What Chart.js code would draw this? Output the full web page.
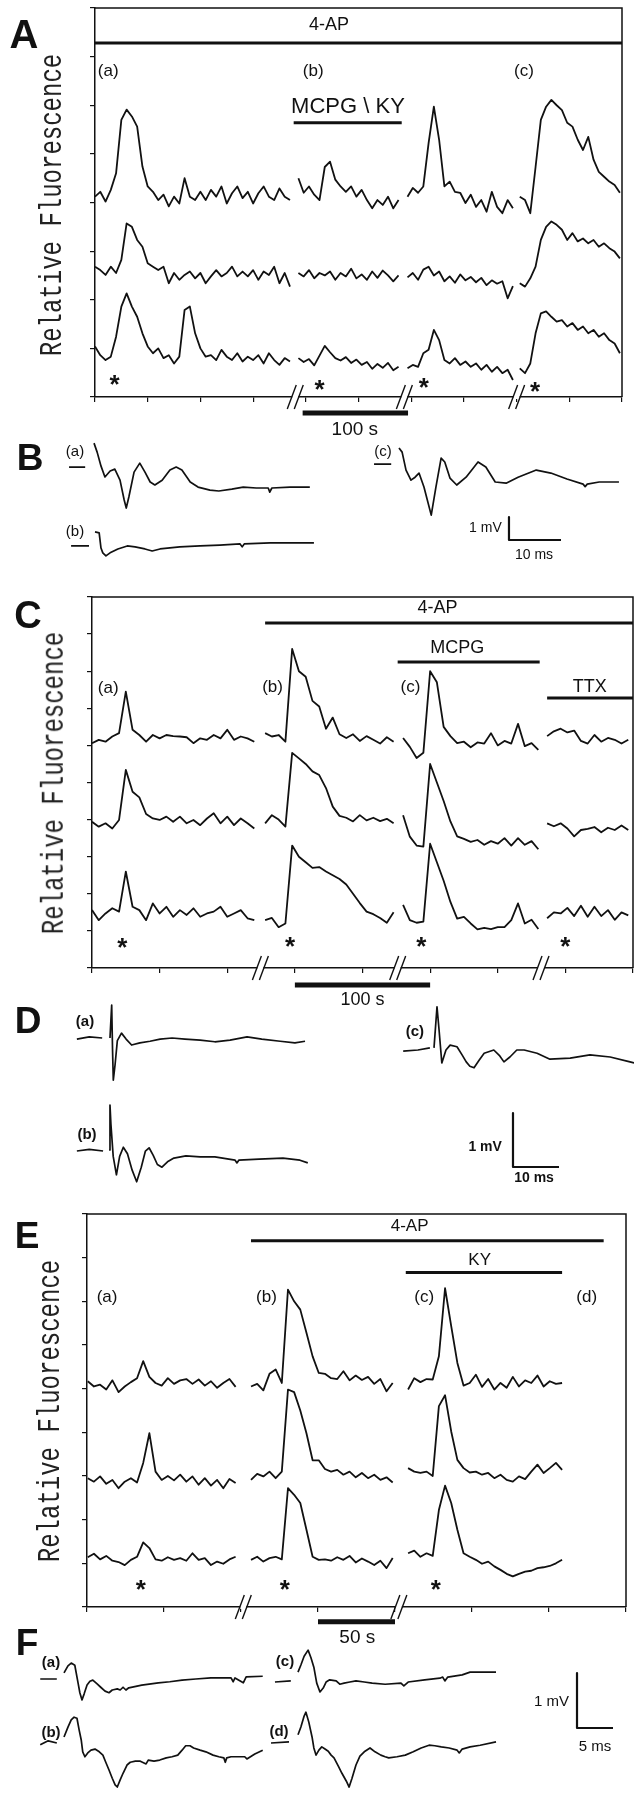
<!DOCTYPE html>
<html>
<head>
<meta charset="utf-8">
<script src="https://cdn.jsdelivr.net/npm/chart.js@4.4.1/dist/chart.umd.min.js"></script>
<style>
  html, body { margin: 0; padding: 0; background: #fff; }
  #page { position: relative; width: 634px; height: 1800px; overflow: hidden; background: #fff; }
  #page canvas { position: absolute; left: 0; }
  .letter { position: absolute; font-family: "Liberation Sans", Arial, sans-serif; font-weight: bold; color: #111;
            line-height: 1; transform: translate(-50%, -50%); }
  .ytitle { position: absolute; font: 24px "Liberation Mono", "Courier New", monospace; color: #222; white-space: nowrap;
            line-height: 1; transform: translate(-50%, -50%) rotate(-90deg) scaleY(1.3); }
</style>
</head>
<body>
<div id="page">
  <canvas id="chartA" width="634" height="445" style="top:0px"></canvas>
  <canvas id="chartC" width="634" height="440" style="top:580px"></canvas>
  <canvas id="chartE" width="634" height="450" style="top:1200px"></canvas>
  <canvas id="chartB" width="634" height="160" style="top:420px"></canvas>
  <canvas id="chartD" width="634" height="200" style="top:1000px"></canvas>
  <canvas id="chartF" width="634" height="180" style="top:1620px"></canvas>

  <div class="letter" style="left:24px;top:34px;font-size:40px">A</div>
  <div class="letter" style="left:30px;top:457px;font-size:37px">B</div>
  <div class="letter" style="left:28px;top:615px;font-size:38px">C</div>
  <div class="letter" style="left:28px;top:1020px;font-size:37px">D</div>
  <div class="letter" style="left:27px;top:1235px;font-size:37px">E</div>
  <div class="letter" style="left:27px;top:1642px;font-size:37px">F</div>

  <div class="ytitle" style="left:53px;top:205px">Relative Fluorescence</div>
  <div class="ytitle" style="left:55px;top:783px">Relative Fluorescence</div>
  <div class="ytitle" style="left:51px;top:1411px">Relative Fluorescence</div>
</div>

<script>
// ---------- fluorescence traces (x in s, y in relative units) ----------
// panel A: 4 recording windows, one sample every 5 s
const aSegStart = [0, 193, 296.5, 403];
const aStep = 5;
const aTraceTop = [
  [4.12,4.22,4.02,4.26,4.60,5.70,5.91,5.77,5.56,4.74,4.33,4.22,4.05,4.16,3.92,4.12,3.98,4.50,4.12,4.05,4.22,4.05,4.26,4.12,4.33,3.98,4.19,4.33,4.09,4.22,3.98,4.19,4.33,4.12,4.05,4.29,4.12,4.05],
  [4.50,4.20,4.33,4.16,4.05,4.73,4.84,4.47,4.33,4.22,4.33,4.12,4.26,4.05,3.88,4.05,3.95,4.12,3.88,4.05],
  [4.12,4.30,4.20,4.33,5.22,5.97,5.29,4.33,4.43,4.22,4.20,3.99,4.16,3.91,4.05,3.81,4.22,3.91,3.78,4.05,3.88],
  [4.12,4.05,3.78,4.73,5.70,5.97,6.11,6.00,5.90,5.64,5.56,5.29,5.08,5.35,4.88,4.63,4.53,4.43,4.36,4.20]
];
const aTraceMid = [
  [2.68,2.61,2.51,2.68,2.55,2.82,3.57,3.50,3.23,3.09,2.75,2.68,2.61,2.68,2.34,2.55,2.41,2.51,2.58,2.44,2.55,2.34,2.48,2.61,2.48,2.55,2.68,2.48,2.58,2.48,2.61,2.41,2.58,2.51,2.68,2.34,2.55,2.27],
  [2.55,2.48,2.61,2.44,2.55,2.50,2.58,2.41,2.55,2.48,2.64,2.44,2.52,2.41,2.58,2.45,2.60,2.50,2.38,2.50],
  [2.46,2.55,2.41,2.62,2.68,2.50,2.58,2.38,2.48,2.35,2.52,2.40,2.47,2.36,2.45,2.30,2.40,2.33,2.38,2.03,2.28],
  [2.34,2.27,2.44,2.68,3.23,3.50,3.61,3.54,3.44,3.23,3.37,3.20,3.26,3.16,3.23,3.09,3.16,3.06,2.99,2.85]
];
const aTraceBot = [
  [1.04,0.86,0.76,0.83,1.24,1.86,2.13,1.86,1.65,1.31,1.04,0.90,1.00,0.80,0.86,0.69,0.83,1.79,1.86,1.31,1.00,0.83,0.86,0.76,0.97,0.83,0.76,0.90,0.73,0.83,0.76,0.86,0.69,0.90,0.76,0.66,0.80,0.73],
  [0.80,0.72,0.78,0.65,0.85,1.05,0.92,0.80,0.75,0.82,0.70,0.77,0.66,0.72,0.58,0.68,0.60,0.70,0.55,0.62],
  [0.59,0.66,0.62,0.90,0.97,1.38,1.17,0.76,0.69,0.80,0.66,0.73,0.62,0.69,0.56,0.66,0.52,0.62,0.49,0.56,0.35],
  [0.59,0.49,0.69,1.31,1.72,1.76,1.65,1.55,1.58,1.45,1.52,1.38,1.45,1.31,1.38,1.24,1.31,1.17,1.10,0.90]
];

// panel C: 4 windows, one sample every 5 s
const cSegStart = [0, 128, 230, 336.5];
const cStep = 5;
const cTraceTop = [
  [6.06,6.15,6.10,6.24,6.33,7.45,6.42,6.28,6.10,6.28,6.19,6.28,6.25,6.24,6.22,6.06,6.19,6.15,6.28,6.19,6.42,6.15,6.24,6.19,6.10],
  [6.33,6.24,6.28,6.10,8.60,8.00,7.85,7.20,7.05,6.45,6.75,6.30,6.20,6.30,6.12,6.25,6.15,6.05,6.22,6.10],
  [6.20,5.96,5.66,5.80,8.00,7.70,6.50,6.25,6.06,6.10,5.95,6.08,6.05,6.33,6.00,6.12,6.05,6.58,5.98,6.06,5.88],
  [6.25,6.38,6.45,6.35,6.40,6.12,6.05,6.28,6.10,6.20,6.15,6.05,6.15]
];
const cTraceMid = [
  [3.94,3.81,3.90,3.76,3.99,5.34,4.75,4.60,4.15,4.03,3.99,4.08,3.94,4.08,3.90,3.99,3.85,4.03,4.17,3.90,4.08,3.85,4.03,3.90,3.76],
  [3.90,4.12,4.00,3.81,5.80,5.65,5.50,5.30,5.20,4.85,4.35,4.10,4.05,3.95,4.12,3.98,4.05,3.96,4.02,3.90],
  [4.12,3.54,3.30,3.27,5.50,5.00,4.50,3.95,3.55,3.48,3.40,3.45,3.32,3.42,3.35,3.50,3.30,3.50,3.32,3.42,3.20],
  [3.90,3.82,3.90,3.76,3.55,3.72,3.75,3.80,3.66,3.78,3.72,3.84,3.72]
];
const cTraceBot = [
  [1.56,1.29,1.47,1.61,1.52,2.60,1.65,1.56,1.29,1.74,1.47,1.65,1.38,1.56,1.43,1.61,1.38,1.47,1.52,1.65,1.38,1.47,1.56,1.34,1.29],
  [1.29,1.35,1.10,1.20,3.30,3.00,2.85,2.70,2.72,2.60,2.50,2.40,2.25,2.00,1.75,1.52,1.45,1.35,1.22,1.50],
  [1.70,1.29,1.22,1.25,3.35,2.85,2.35,1.78,1.33,1.38,1.20,1.04,1.08,1.05,1.10,1.10,1.29,1.74,1.20,1.30,1.05],
  [1.34,1.50,1.47,1.62,1.40,1.68,1.38,1.65,1.40,1.56,1.30,1.50,1.42]
];

// panel E: 3 windows, one sample every 4 s
const eSegStart = [0.5, 106.5, 208.5];
const eStep = 4;
const eTraceTop = [
  [5.17,5.05,5.09,4.98,5.19,4.92,5.05,5.15,5.24,5.63,5.27,5.13,5.07,5.24,5.11,5.19,5.22,5.11,5.21,5.07,5.17,5.02,5.13,5.22,5.04],
  [5.05,5.11,4.96,5.34,5.44,5.13,7.27,7.00,6.81,6.28,5.74,5.36,5.34,5.24,5.22,5.40,5.19,5.30,5.20,5.27,5.11,5.22,4.94,5.13],
  [4.98,5.24,5.15,5.22,5.21,5.74,7.30,6.43,5.59,5.07,5.13,5.32,5.04,5.22,4.98,5.13,5.02,5.27,5.05,5.19,5.13,5.30,5.05,5.17,5.11,5.13]
];
const eTraceMid = [
  [2.95,2.87,2.99,2.82,2.91,2.72,2.87,2.95,2.85,3.30,3.98,3.10,2.91,3.00,2.90,3.03,2.87,2.99,2.80,2.95,2.78,2.91,2.72,2.93,2.84],
  [2.91,3.05,2.99,3.10,2.95,3.10,4.98,4.92,4.50,3.98,3.36,3.36,3.16,3.10,3.14,3.03,3.10,2.97,3.07,2.95,3.03,2.91,2.97,2.85],
  [3.18,3.10,3.07,3.10,3.00,4.60,4.85,4.02,3.37,3.18,3.08,3.10,3.03,3.07,2.95,3.03,2.91,2.87,2.99,2.93,3.10,3.26,3.07,3.18,3.30,3.14]
];
const eTraceBot = [
  [1.14,1.22,1.09,1.17,1.06,1.03,0.96,1.08,1.15,1.48,1.35,1.09,1.06,1.14,1.08,1.12,1.06,1.23,1.08,1.12,0.96,1.04,0.99,1.09,1.15],
  [1.08,1.15,1.04,1.12,1.15,1.09,2.72,2.57,2.38,1.77,1.15,1.08,1.09,1.06,1.14,1.08,1.17,1.02,1.11,1.04,0.96,1.06,0.89,1.12],
  [1.23,1.29,1.15,1.23,1.17,2.22,2.78,2.38,1.77,1.23,1.15,1.08,0.99,1.04,0.93,0.85,0.76,0.70,0.76,0.81,0.83,0.89,0.91,0.94,1.00,1.08]
];

// ---------- field potentials (ms from stimulus, mV from baseline; null = pen lift) ----------
const bTimeA = [-4.8,-1.7,-1, 0,0.6,1.35,2.1,3.1,4.0,5.0,5.8,6.2,6.7,7.7,8.8,9.8,10.8,11.7,13.1,14.6,15.8,16.9,18.5,20,22.3,24,26.5,28.7,31.2,33.5,33.8,34.2,37.7,41.5];
const bVoltA = [0,0,null, 1.04,0.65,0.04,-0.43,-0.17,-0.09,-0.57,-1.43,-1.78,-1.3,-0.22,0.17,-0.22,-0.65,-0.78,-0.57,-0.13,0,-0.13,-0.65,-0.87,-1.0,-1.04,-0.96,-0.87,-0.91,-0.91,-1.09,-0.91,-0.87,-0.87];
const bTimeB = [-4.6,-1.15,-0.5, 0,0.8,1.15,1.5,2.1,2.9,4.4,6.2,7.7,9.6,11,12.5,16.3,20.2,24,27.9,28.3,28.7,33.7,42.1];
const bVoltB = [0,0,null, 0.61,0.57,-0.09,-0.3,-0.43,-0.3,-0.13,0,-0.04,-0.13,-0.22,-0.13,-0.04,0,0.04,0.09,-0.04,0.09,0.13,0.13];
const bTimeC = [-4.8,-1.5,-1, 0,0.6,1.35,2.3,3.1,3.85,4.8,6.2,7.1,8.1,8.8,9.8,11.1,12.9,15.2,16.7,18.5,20.6,22.9,26.4,29.2,32.3,35.4,35.8,36.2,38.5,42.3];
const bVoltC = [0,0,null, 0.7,0.52,-0.26,-0.7,-0.57,-0.39,-1.0,-2.22,-1.0,0.26,0.09,-0.61,-0.91,-0.57,0.09,-0.13,-0.78,-0.83,-0.57,-0.26,-0.39,-0.65,-0.87,-0.98,-0.87,-0.78,-0.78];

const dTimeA = [-7.2,-4.5,-1.7,-1, 0,0.37,0.55,0.72,1.1,1.6,2.5,3.5,4.7,6.5,8.7,10.9,13.5,16.3,19.6,22.8,26.1,29.8,33,37,40.2,42.4];
const dVoltA = [-0.02,0.02,0,null, 0,0.61,-0.2,-0.78,-0.5,-0.05,0.09,-0.02,-0.13,-0.09,-0.06,-0.02,0,-0.02,-0.04,-0.07,-0.04,0.02,-0.02,-0.06,-0.09,-0.06];
const dTimeB = [-7.2,-4.5,-1.5,-1.0, -0.2,0,0.2,0.7,1.4,2.1,2.9,3.8,4.8,5.8,6.8,7.7,8.5,9.4,10.3,11.3,12.5,13.9,16.5,19.6,22.8,27.2,27.6,28,32.4,37.6,41.3,43];
const dVoltB = [0,0.03,0,null, 0.02,0.85,0.5,-0.1,-0.44,-0.1,0.07,-0.05,-0.35,-0.57,-0.3,0.0,0.06,-0.08,-0.25,-0.3,-0.2,-0.13,-0.09,-0.11,-0.11,-0.17,-0.22,-0.17,-0.15,-0.13,-0.17,-0.22];
const dTimeC = [-6.7,-3.5,-0.9,-0.5, 0,0.65,1.1,1.7,2.6,3.5,5,6.1,7,7.8,8.7,9.8,10.9,13,14.3,15.2,16.5,18,19.6,22.4,25.2,29.6,33.9,38.3,42.6,43.5];
const dVoltC = [-0.02,0,0.04,null, 0.04,0.8,0.37,-0.24,0,0.09,0.06,-0.09,-0.22,-0.3,-0.33,-0.19,-0.06,0,-0.11,-0.22,-0.13,0,0,-0.06,-0.17,-0.15,-0.09,-0.13,-0.22,-0.24];

const fTimeA = [-3.3,-1.0,-0.6, 0,0.55,1.0,1.5,1.95,2.2,2.5,2.8,3.2,3.6,4.0,4.6,5.1,5.7,6.25,6.7,7.4,7.8,8.2,8.6,9.0,10.8,13.1,14.7,16.4,18.3,20.4,23.2,23.5,23.75,24.9,25.3,27.6];
const fVoltA = [0,0,null, 0.11,0.24,0.29,0.25,-0.07,-0.25,-0.38,-0.27,-0.11,-0.04,-0.02,-0.09,-0.15,-0.22,-0.25,-0.2,-0.18,-0.2,-0.15,-0.2,-0.16,-0.11,-0.07,-0.05,-0.02,0,0.02,0.02,-0.05,0.02,-0.07,0.04,0.05];
const fTimeB = [-3.3,-2.2,-1.0,-0.6, 0,0.55,1.0,1.4,1.8,2.1,2.4,2.6,2.9,3.3,3.75,4.3,4.9,5.4,5.8,6.25,6.7,7.1,7.4,7.8,8.2,8.75,9.2,9.9,10.6,11.4,11.7,12.5,13.3,14.2,15,15.8,16.4,16.9,17.5,18,18.9,19.7,20.7,21.5,22.2,22.4,22.6,23.2,25.1,25.4,26.5,27.6];
const fVoltB = [-0.03,0.04,0,null, 0.11,0.29,0.42,0.47,0.45,0.24,0.05,-0.16,-0.25,-0.18,-0.13,-0.11,-0.16,-0.22,-0.35,-0.49,-0.64,-0.76,-0.8,-0.67,-0.55,-0.4,-0.35,-0.33,-0.33,-0.38,-0.31,-0.33,-0.31,-0.27,-0.25,-0.22,-0.13,-0.05,-0.05,-0.09,-0.13,-0.16,-0.22,-0.25,-0.27,-0.35,-0.27,-0.25,-0.25,-0.29,-0.2,-0.13];
const fTimeC = [-3.2,-1.0,-0.6, 0,0.4,0.85,1.4,1.8,2.2,2.6,3.05,3.5,3.9,4.4,5.3,5.8,6.4,7.2,8.05,9.2,10.3,12.1,14.3,14.7,15.3,17.6,19.7,20.1,20.4,20.8,22.8,23.9,26,27.5];
const fVoltC = [0,0.02,null, 0.18,0.31,0.47,0.58,0.44,0.27,-0.02,-0.18,-0.11,0,0.04,0.02,-0.04,-0.02,0,0.02,0,-0.02,-0.04,-0.02,-0.07,0,0.04,0.07,0.09,0.02,0.09,0.13,0.18,0.18,0.18];
const fTimeD = [-3.75,-1.25,-0.8, 0,0.4,0.85,1.1,1.5,1.95,2.2,2.5,2.9,3.3,3.75,4.2,4.6,5.0,5.6,6.1,6.7,7.1,7.5,8.05,8.6,9.2,10,10.7,11.5,12.1,12.6,13.75,14.9,16,17.1,18.2,19,19.9,21,22.1,22.4,22.8,23.9,25.3,27.5];
const fVoltD = [0,0.02,null, 0.15,0.29,0.49,0.56,0.38,0.11,-0.09,-0.22,-0.13,-0.07,-0.11,-0.15,-0.22,-0.27,-0.42,-0.55,-0.69,-0.8,-0.64,-0.4,-0.24,-0.16,-0.09,-0.16,-0.22,-0.25,-0.27,-0.25,-0.22,-0.16,-0.09,-0.04,-0.05,-0.07,-0.09,-0.13,-0.18,-0.11,-0.07,-0.04,0.02];

// scale bars
const bScale = { ms: 10, mv: 1 };
const dScale = { ms: 10, mv: 1 };
const fScale = { ms: 5, mv: 1 };

const INK = '#111';
const FONT = '"Liberation Sans", Arial, sans-serif';
Chart.defaults.font.family = FONT;

// ---------- helpers ----------
function segPoints(starts, step, segs) {
  const pts = [];
  segs.forEach((seg, k) => {
    if (k > 0) pts.push({ x: starts[k] - step / 2, y: null });
    seg.forEach((v, i) => pts.push({ x: starts[k] + i * step, y: v }));
  });
  return pts;
}

function ephysPoints(times, volts, origin) {
  return times.map((t, i) => ({ x: origin[0] + t, y: volts[i] === null ? null : origin[1] + volts[i] }));
}

function lineSet(points, width, noClip) {
  const ds = {
    type: 'line', data: points, borderColor: INK, borderWidth: width,
    pointRadius: 0, tension: 0, fill: false, spanGaps: false,
    borderJoinStyle: 'round', borderCapStyle: 'butt'
  };
  if (noClip) ds.clip = false;
  return ds;
}

function hBar(x0, x1, y, width) {
  return lineSet([{ x: x0, y: y }, { x: x1, y: y }], width, true);
}

// text, asterisks, frame and axis breaks
const decoPlugin = {
  id: 'deco',
  afterDatasetsDraw(chart, args, o) {
    const { ctx, chartArea: ca } = chart;
    const sx = chart.scales.x, sy = chart.scales.y;
    ctx.save();
    ctx.strokeStyle = INK;
    ctx.fillStyle = INK;
    if (o.frame) {
      ctx.lineWidth = 1.5;
      ctx.beginPath();
      ctx.moveTo(ca.left, ca.top);
      ctx.lineTo(ca.right, ca.top);
      ctx.lineTo(ca.right, ca.bottom);
      ctx.stroke();
    }
    (o.breaks || []).forEach(bx => {
      const px = sx.getPixelForValue(bx), py = ca.bottom;
      ctx.fillStyle = '#fff';
      ctx.fillRect(px - 3, py - 2, 6, 4);
      ctx.lineWidth = 1.4;
      [-3.5, 3.5].forEach(d => {
        ctx.beginPath();
        ctx.moveTo(px + d - 4.5, py + 12);
        ctx.lineTo(px + d + 4.5, py - 12);
        ctx.stroke();
      });
    });
    ctx.fillStyle = INK;
    (o.texts || []).forEach(t => {
      ctx.font = (t.bold ? 'bold ' : '') + t.size + 'px ' + FONT;
      ctx.textAlign = t.align || 'center';
      ctx.textBaseline = 'middle';
      ctx.fillText(t.text, sx.getPixelForValue(t.x), sy.getPixelForValue(t.y));
    });
    ctx.font = 'bold 26px ' + FONT;
    ctx.textAlign = 'center';
    ctx.textBaseline = 'middle';
    (o.stars || []).forEach(s => {
      ctx.fillText('*', sx.getPixelForValue(s[0]), sy.getPixelForValue(s[1]) + 6);
    });
    ctx.restore();
  }
};
Chart.register(decoPlugin);

function axisOpts(max, step, horizontal) {
  return {
    type: 'linear', min: 0, max: max,
    afterFit: s => { if (horizontal) s.height = 0; else s.width = 0; },
    ticks: { display: false, stepSize: step },
    grid: { drawOnChartArea: false, drawTicks: true, tickLength: 5, color: INK, lineWidth: 1.2 },
    border: { display: true, color: INK, width: 1.5 }
  };
}

function fluorChart(id, cfg) {
  const datasets = cfg.traces.map(tr => lineSet(segPoints(cfg.starts, cfg.step, tr), 1.8));
  cfg.bars.forEach(b => datasets.push(hBar(b[0], b[1], b[2], b[3])));
  return new Chart(document.getElementById(id), {
    type: 'line',
    data: { datasets: datasets },
    options: {
      responsive: false, animation: false, events: [],
      layout: { padding: cfg.padding },
      plugins: { legend: { display: false }, tooltip: { enabled: false }, deco: cfg.deco },
      scales: { x: axisOpts(cfg.xMax, 50, true), y: axisOpts(cfg.yMax, 1, false) }
    }
  });
}

function ephysChart(id, cfg) {
  const datasets = cfg.traces.map(tr => lineSet(ephysPoints(tr[0], tr[1], tr[2]), 1.7));
  const c = cfg.scaleCorner, sb = cfg.scaleBar;
  datasets.push(lineSet([{ x: c[0], y: c[1] + sb.mv }, { x: c[0], y: c[1] }, { x: c[0] + sb.ms, y: c[1] }], 2.2));
  const canvas = document.getElementById(id);
  return new Chart(canvas, {
    type: 'line',
    data: { datasets: datasets },
    options: {
      responsive: false, animation: false, events: [],
      layout: { padding: 0 },
      plugins: { legend: { display: false }, tooltip: { enabled: false }, deco: cfg.deco },
      scales: {
        x: { type: 'linear', display: false, min: 0, max: canvas.width / cfg.pxPerMs },
        y: { type: 'linear', display: false, min: 0, max: canvas.height / cfg.pxPerMv }
      }
    }
  });
}

// ---------- panel A ----------
fluorChart('chartA', {
  starts: aSegStart, step: aStep, xMax: 500, yMax: 8,
  padding: { left: 95, right: 12, top: 8, bottom: 48 },
  traces: [aTraceTop, aTraceMid, aTraceBot],
  bars: [[0, 500, 7.28, 3], [188.5, 291, 5.64, 3], [197, 297, -0.33, 5]],
  deco: {
    frame: true,
    breaks: [190, 293.5, 400],
    stars: [[18.5, 0.35], [213, 0.25], [312, 0.29], [417.5, 0.2]],
    texts: [
      { text: '4-AP', x: 222, y: 7.65, size: 18 },
      { text: '(a)', x: 12.5, y: 6.7, size: 17 },
      { text: '(b)', x: 207, y: 6.7, size: 17 },
      { text: '(c)', x: 407, y: 6.7, size: 17 },
      { text: 'MCPG \\ KY', x: 240, y: 5.97, size: 22 },
      { text: '100 s', x: 246.5, y: -0.68, size: 19 }
    ]
  }
});

// ---------- panel C ----------
fluorChart('chartC', {
  starts: cSegStart, step: cStep, xMax: 400, yMax: 10,
  padding: { left: 92, right: 1, top: 17, bottom: 52 },
  traces: [cTraceTop, cTraceMid, cTraceBot],
  bars: [[128, 400, 9.3, 3], [226, 331, 8.25, 3], [336.5, 400, 7.28, 3], [150, 250, -0.46, 5]],
  deco: {
    frame: true,
    breaks: [124.5, 226, 332],
    stars: [[22.5, 0.67], [146.5, 0.7], [243.5, 0.7], [350, 0.7]],
    texts: [
      { text: '4-AP', x: 255.5, y: 9.7, size: 18 },
      { text: 'MCPG', x: 270, y: 8.63, size: 18 },
      { text: 'TTX', x: 368, y: 7.57, size: 18 },
      { text: '(a)', x: 12, y: 7.55, size: 17 },
      { text: '(b)', x: 133.5, y: 7.57, size: 17 },
      { text: '(c)', x: 235.5, y: 7.57, size: 17 },
      { text: '100 s', x: 200, y: -0.86, size: 18 }
    ]
  }
});

// ---------- panel E ----------
fluorChart('chartE', {
  starts: eSegStart, step: eStep, xMax: 350, yMax: 9,
  padding: { left: 87, right: 8, top: 14, bottom: 43 },
  traces: [eTraceTop, eTraceMid, eTraceBot],
  bars: [[106.5, 335.5, 8.39, 3], [207, 308.5, 7.66, 3], [150, 200, -0.34, 5]],
  deco: {
    frame: true,
    breaks: [101.5, 202.5],
    stars: [[35, 0.5], [128.5, 0.5], [226.5, 0.5]],
    texts: [
      { text: '4-AP', x: 209.5, y: 8.72, size: 17 },
      { text: 'KY', x: 255, y: 7.94, size: 17 },
      { text: '(a)', x: 13, y: 7.09, size: 17 },
      { text: '(b)', x: 116.5, y: 7.09, size: 17 },
      { text: '(c)', x: 219, y: 7.09, size: 17 },
      { text: '(d)', x: 324.5, y: 7.09, size: 17 },
      { text: '50 s', x: 175.5, y: -0.71, size: 19 }
    ]
  }
});

// ---------- panel B ----------
ephysChart('chartB', {
  pxPerMs: 5.2, pxPerMv: 23,
  traces: [[bTimeA, bVoltA, [18.08, 4.91]], [bTimeB, bVoltB, [18.27, 1.48]], [bTimeC, bVoltC, [76.73, 5.04]]],
  scaleBar: bScale, scaleCorner: [97.88, 1.74],
  deco: {
    texts: [
      { text: '(a)', x: 14.42, y: 5.57, size: 15 },
      { text: '(b)', x: 14.42, y: 2.09, size: 15 },
      { text: '(c)', x: 73.65, y: 5.57, size: 15 },
      { text: '1 mV', x: 96.5, y: 2.26, size: 14, align: 'right' },
      { text: '10 ms', x: 102.7, y: 1.09, size: 14 }
    ]
  }
});

// ---------- panel D ----------
ephysChart('chartD', {
  pxPerMs: 4.6, pxPerMv: 54,
  traces: [[dTimeA, dVoltA, [23.91, 3.0]], [dTimeB, dVoltB, [23.91, 0.907]], [dTimeC, dVoltC, [94.35, 2.778]]],
  scaleBar: dScale, scaleCorner: [111.52, 0.611],
  deco: {
    texts: [
      { text: '(a)', x: 18.48, y: 3.3, size: 15, bold: true },
      { text: '(b)', x: 18.91, y: 1.2, size: 15, bold: true },
      { text: '(c)', x: 90.2, y: 3.11, size: 15, bold: true },
      { text: '1 mV', x: 109.1, y: 0.98, size: 14, bold: true, align: 'right' },
      { text: '10 ms', x: 116.1, y: 0.41, size: 14, bold: true }
    ]
  }
});

// ---------- panel F ----------
ephysChart('chartF', {
  pxPerMs: 7.2, pxPerMv: 55,
  traces: [[fTimeA, fVoltA, [8.89, 2.2]], [fTimeB, fVoltB, [8.89, 1.036]],
           [fTimeC, fVoltC, [41.39, 2.145]], [fTimeD, fVoltD, [41.39, 1.036]]],
  scaleBar: fScale, scaleCorner: [80.14, 1.309],
  deco: {
    texts: [
      { text: '(a)', x: 7.08, y: 2.49, size: 15, bold: true },
      { text: '(b)', x: 7.08, y: 1.22, size: 15, bold: true },
      { text: '(c)', x: 39.58, y: 2.51, size: 15, bold: true },
      { text: '(d)', x: 38.75, y: 1.24, size: 15, bold: true },
      { text: '1 mV', x: 79.03, y: 1.78, size: 15, align: 'right' },
      { text: '5 ms', x: 82.64, y: 0.96, size: 15 }
    ]
  }
});
</script>
</body>
</html>
